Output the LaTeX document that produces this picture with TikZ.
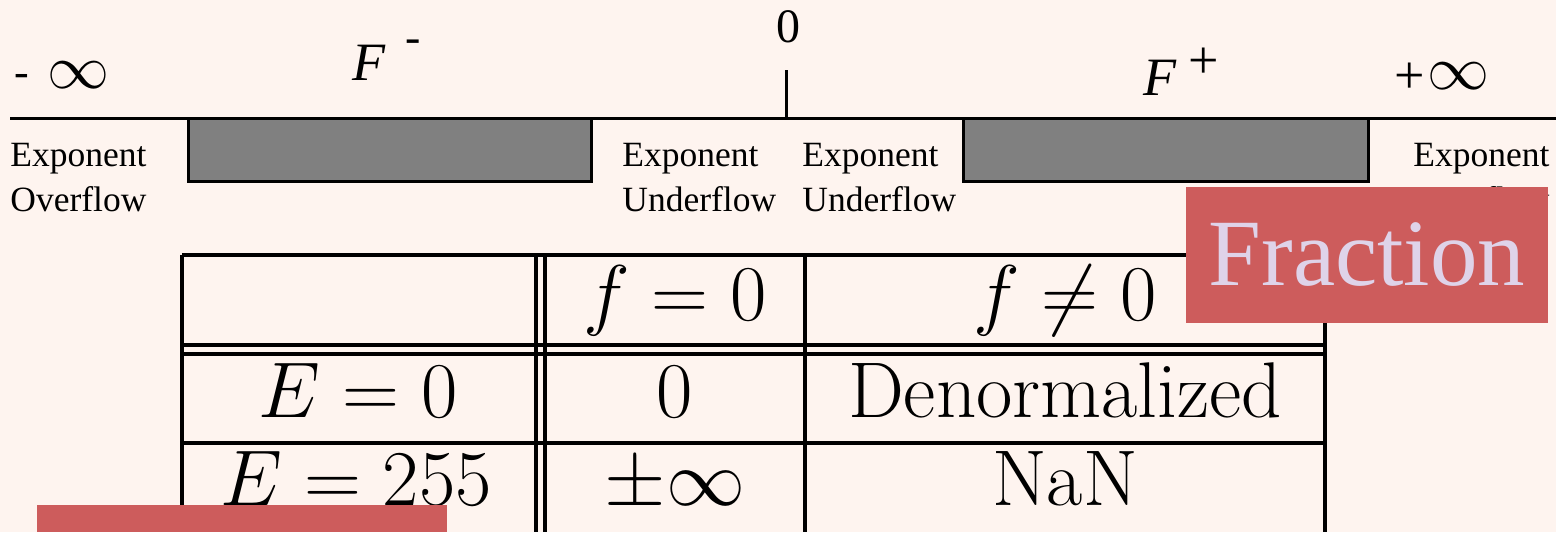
\documentclass[tikz,border=0pt]{standalone}
\usepackage{fix-cm}
\usepackage{fontspec}
\newfontfamily\tnr{Liberation Serif}
\definecolor{bgc}{HTML}{FEF4EF}
\definecolor{redc}{HTML}{CD5C5C}
\definecolor{lavc}{HTML}{DFD3E9}
\definecolor{grayc}{HTML}{808080}
\tikzset{
  lbl/.style={font=\tnr\fontsize{17.75}{20}\selectfont, inner sep=0, anchor=base west},
  sym/.style={font=\fontsize{31}{34}\selectfont, inner sep=0, anchor=base west},
  sgn/.style={font=\tnr\fontsize{27}{30}\selectfont, inner sep=0, anchor=base west},
  cell/.style={font=\fontsize{39.5}{42}\selectfont, inner sep=0, anchor=base},
  tl/.style={line width=2pt},
  grayblk/.style={fill=grayc, draw=black, line width=1.5pt},
  redbox/.style={fill=redc, draw=none, inner sep=0}
}
\begin{document}
\begin{tikzpicture}[x=0.5pt,y=-0.5pt]
\useasboundingbox[fill=bgc] (0,0) rectangle (1556,532);
% number line
\coordinate (L) at (10,118);
\coordinate (R) at (1556,118);
\coordinate (z0) at (786,118);
\coordinate (ztop) at (786,70);
\draw[grayblk] (188,118) rectangle (591,181);
\draw[grayblk] (963,118) rectangle (1368,181);
\draw[line width=1.5pt] (L) -- (R);
\draw[line width=1.5pt] (z0) -- (ztop);
% top labels
\node[font=\tnr\fontsize{24}{26}\selectfont, inner sep=0, anchor=base] (zero) at (788,42) {0};
\node[font=\tnr\fontsize{22}{24}\selectfont, inner sep=0, anchor=base west] (mneg) at (14,86) {-};
\node[sym] (infneg) at (47,88) {$\infty$};
\node[font=\tnr\itshape\fontsize{27}{30}\selectfont, inner sep=0, anchor=base west] (Fm) at (352,80) {F};
\node[font=\tnr\fontsize{23}{26}\selectfont, inner sep=0, anchor=base west] (Fmsup) at (405,52) {-};
\node[font=\tnr\itshape\fontsize{27}{30}\selectfont, inner sep=0, anchor=base west] (Fp) at (1143,95) {F};
\node[sgn] (Fpsup) at (1188,78) {+};
\node[sgn] (pplus) at (1394,93) {+};
\node[sym] (infpos) at (1427,89) {$\infty$};
% region labels
\node[lbl] (eo1) at (10,166) {Exponent};
\node[lbl] (eo2) at (10,211) {Overflow};
\node[lbl] (eu1) at (622,166) {Exponent};
\node[lbl] (eu2) at (622,211) {Underflow};
\node[lbl] (eu3) at (802,166) {Exponent};
\node[lbl] (eu4) at (802,211) {Underflow};
\node[lbl] (eo3) at (1413,166) {Exponent};
\node[lbl] (eo4) at (1413,211) {Overflow};
% table
\draw[tl] (182,255) -- (1325,255);
\draw[tl] (182,345) -- (1325,345);
\draw[tl] (182,354) -- (1325,354);
\draw[tl] (182,443) -- (1325,443);
\foreach \xx in {182,536,545,805,1325} {\draw[tl] (\xx,255) -- (\xx,532);}
\node[cell] (h1) at (675,320) {$f=0$};
\node[cell] (h2) at (1065,320) {$f\neq0$};
\node[cell] (r1a) at (358,417) {$E=0$};
\node[cell] (r1b) at (675,417) {$0$};
\node[cell] (r1c) at (1065,417) {Denormalized};
\node[cell] (r2a) at (356,505) {$E=255$};
\node[cell] (r2b) at (675,505) {$\pm\infty$};
\node[cell] (r2c) at (1065,505) {NaN};
% overlays
\node[redbox, minimum width=181pt, minimum height=68pt, text=lavc, font=\tnr\fontsize{47.5}{50}\selectfont] (frac) at (1367,255) {Fraction};
\fill[redc] (37,505) rectangle (447,532);
\end{tikzpicture}
\end{document}
